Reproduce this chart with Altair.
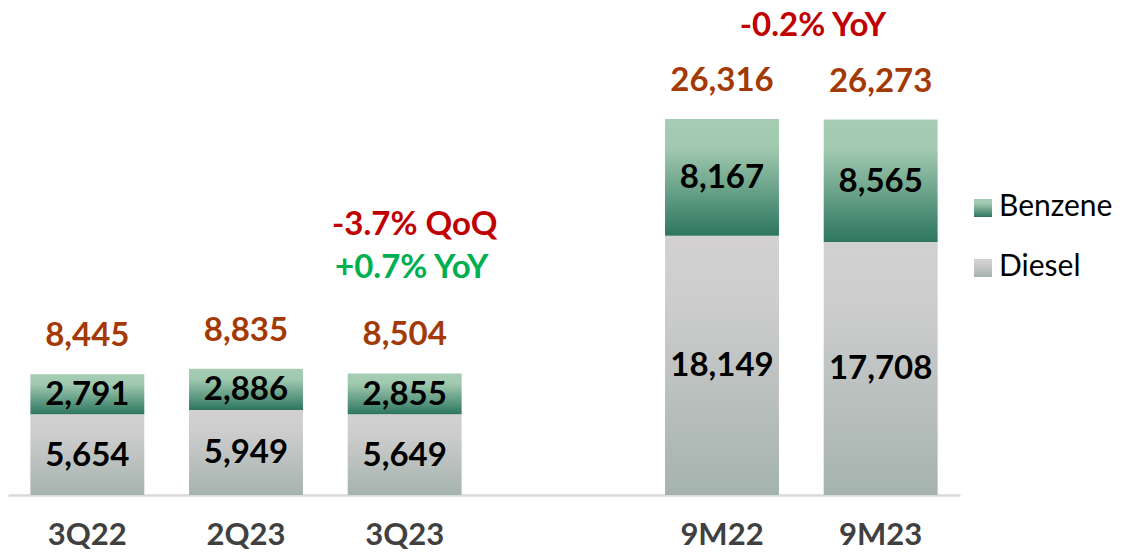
import altair as alt
import pandas as pd

# ---- data ----
categories = ["3Q22", "2Q23", "3Q23", "9M22", "9M23"]
diesel = [5654, 5949, 5649, 18149, 17708]
benzene = [2791, 2886, 2855, 8167, 8565]
totals = [8445, 8835, 8504, 26316, 26273]
x_domain = ["3Q22", "2Q23", "3Q23", " ", "9M22", "9M23"]
series_names = ["Benzene", "Diesel"]
qoq_label = ["3Q23", "-3.7% QoQ"]
yoy_q_label = ["3Q23", "+0.7% YoY"]
yoy_9m_label = ["9M22", "-0.2% YoY"]

df = pd.DataFrame({
    "cat": categories,
    "diesel": diesel,
    "benzene": benzene,
    "total": totals,
})
df["zero"] = 0
df["top"] = df["diesel"] + df["benzene"]
df["d_mid"] = df["diesel"] / 2
df["b_mid"] = df["diesel"] + df["benzene"] / 2
df["d_lab"] = df["diesel"].map(lambda v: f"{v:,}")
df["b_lab"] = df["benzene"].map(lambda v: f"{v:,}")
df["t_lab"] = df["total"].map(lambda v: f"{v:,}")

FONT = "Lato"

benz_grad = alt.Gradient(
    gradient="linear", x1=0, x2=0, y1=0, y2=1,
    stops=[alt.GradientStop(color="#a6cdb4", offset=0),
           alt.GradientStop(color="#a0c9af", offset=0.25),
           alt.GradientStop(color="#2d7660", offset=1)])
dies_grad = alt.Gradient(
    gradient="linear", x1=0, x2=0, y1=0, y2=1,
    stops=[alt.GradientStop(color="#d2d0d1", offset=0),
           alt.GradientStop(color="#cfcecf", offset=0.22),
           alt.GradientStop(color="#a5b3af", offset=1)])

x_enc = alt.X(
    "cat:N",
    scale=alt.Scale(domain=x_domain, paddingInner=0.282, paddingOuter=0.141),
    axis=alt.Axis(title=None, labelAngle=0, ticks=False, labelFont=FONT,
                  labelFontSize=31, labelFontWeight="bold", labelColor="#404040",
                  labelBaseline="middle", labelPadding=40,
                  domainColor="#d9d9d9", domainWidth=2.5),
)
y_scale = alt.Scale(domain=[0, 33380])

base = alt.Chart(df)

diesel_bar = base.mark_bar(color=dies_grad).encode(
    x=x_enc,
    y=alt.Y("zero:Q", scale=y_scale, axis=None),
    y2="diesel:Q",
)
benz_bar = base.mark_bar(color=benz_grad).encode(
    x=x_enc,
    y=alt.Y("diesel:Q", scale=y_scale, axis=None),
    y2="top:Q",
)

d_text = base.mark_text(font=FONT, fontSize=33, fontWeight="bold", color="#000000",
                        baseline="middle", dy=1).encode(
    x=x_enc, y=alt.Y("d_mid:Q", scale=y_scale), text="d_lab:N")
b_text = base.mark_text(font=FONT, fontSize=33, fontWeight="bold", color="#000000",
                        baseline="middle", dy=1).encode(
    x=x_enc, y=alt.Y("b_mid:Q", scale=y_scale), text="b_lab:N")
t_text = base.mark_text(font=FONT, fontSize=33, fontWeight="bold", color="#a33a05",
                        baseline="middle", dy=-38).encode(
    x=x_enc, y=alt.Y("total:Q", scale=y_scale), text="t_lab:N")


def annot(item, color, dx, dy):
    sub = df[df["cat"] == item[0]].copy()
    sub["ann"] = item[1]
    return alt.Chart(sub).mark_text(font=FONT, fontSize=33, fontWeight="bold",
                                    color=color, baseline="middle", dx=dx, dy=dy).encode(
        x=x_enc, y=alt.Y("total:Q", scale=y_scale), text="ann:N")


a1 = annot(qoq_label, "#c00000", 10, -148)
a2 = annot(yoy_q_label, "#00b050", 7, -105)
a3 = annot(yoy_9m_label, "#c00000", 91, -93)

# legend (manual, with gradient swatches)
leg_b = pd.DataFrame({"s": [series_names[0]]})
leg_d = pd.DataFrame({"s": [series_names[1]]})
sw_b = alt.Chart(leg_b).mark_rect(color=benz_grad).encode(
    x=alt.value(966), x2=alt.value(984), y=alt.value(181), y2=alt.value(199))
sw_d = alt.Chart(leg_d).mark_rect(color=dies_grad).encode(
    x=alt.value(966), x2=alt.value(984), y=alt.value(241), y2=alt.value(259))
lt_b = alt.Chart(leg_b).mark_text(font=FONT, fontSize=30, align="left",
                                  baseline="middle", color="#000000").encode(
    x=alt.value(991), y=alt.value(189), text="s:N")
lt_d = alt.Chart(leg_d).mark_text(font=FONT, fontSize=30, align="left",
                                  baseline="middle", color="#000000").encode(
    x=alt.value(991), y=alt.value(249), text="s:N")

chart = alt.layer(
    diesel_bar, benz_bar, d_text, b_text, t_text, a1, a2, a3,
    sw_b, sw_d, lt_b, lt_d,
).properties(
    width=952, height=477,
    autosize=alt.AutoSizeParams(type="none"),
    padding={"left": 0, "top": 10, "right": 166, "bottom": 58},
    background="white",
).configure_view(stroke=None)

chart.save("out.html", embed_options={"renderer": "svg", "actions": False})
